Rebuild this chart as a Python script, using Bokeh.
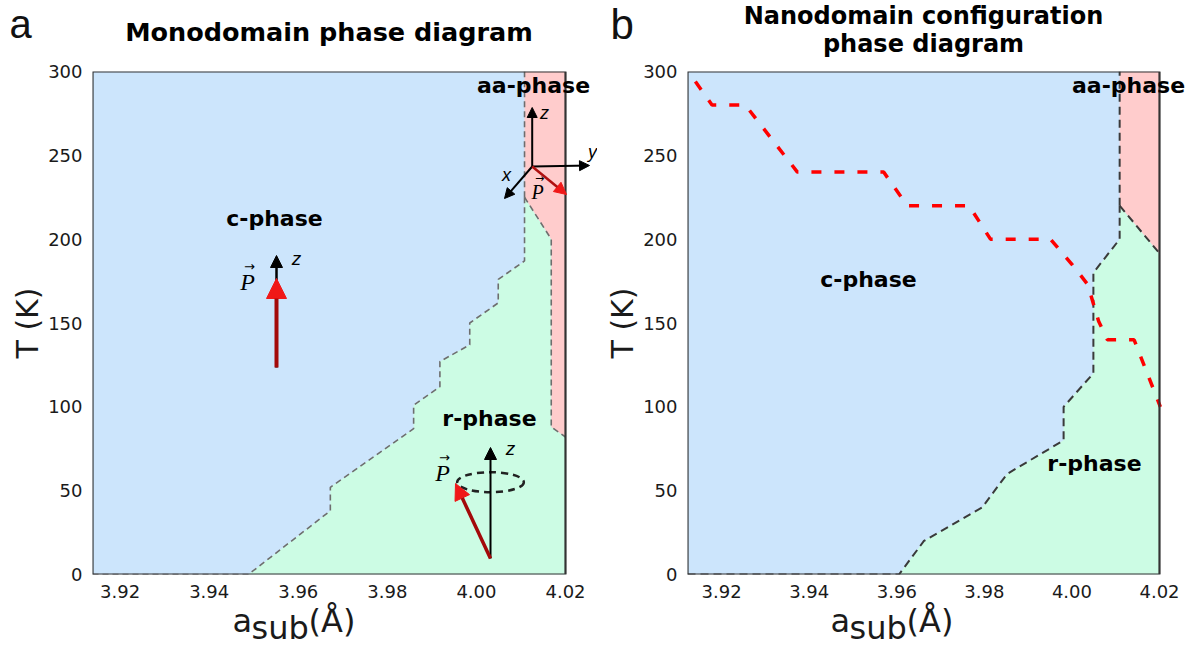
from bokeh.plotting import figure
from bokeh.layouts import row, column
from bokeh.models import Range1d, FixedTicker, PrintfTickFormatter, Label, Arrow, NormalHead
from bokeh.embed import file_html
from bokeh.resources import INLINE

# ---------------- data ----------------
x_ticks = [3.92, 3.94, 3.96, 3.98, 4.00, 4.02]
T_ticks = [0, 50, 100, 150, 200, 250, 300]
a_xlim = [3.9138, 4.02]
b_xlim = [3.9122, 4.02]
T_lim = [0, 300]

# Monodomain: c-phase / r-phase staircase boundary
a_cr_x = [3.9138, 3.9488, 3.9672, 3.9672, 3.9859, 3.9859, 3.9918, 3.9918, 3.9985, 3.9985, 4.0049, 4.0049, 4.0108, 4.0108]
a_cr_T = [0, 0, 38, 52, 87, 101, 112, 127, 137, 150, 162, 176, 187, 225]
# c-phase / aa-phase boundary
a_ca_x = [4.0108, 4.0108]
a_ca_T = [225, 300]
# aa-phase / r-phase boundary
a_ar_x = [4.0108, 4.0168, 4.0168, 4.02]
a_ar_T = [225, 200, 88, 82]

# Nanodomain configuration: c / r boundary
b_cr_x = [3.9122, 3.9605, 3.9662, 3.9795, 3.9852, 3.9981, 3.9981, 4.0049, 4.0049, 4.0109, 4.0109]
b_cr_T = [0, 0, 20, 40, 60, 80, 100, 120, 180, 200, 220]
b_ca_x = [4.0109, 4.0109]
b_ca_T = [220, 300]
b_ar_x = [4.0109, 4.02]
b_ar_T = [220, 191.5]

# red dashed line (nanodomain)
red_x = [3.9140, 3.9178, 3.9254, 3.9373, 3.9570, 3.9624, 3.9765, 3.9814, 3.9951, 4.0000, 4.0036, 4.0061, 4.0081, 4.0142, 4.0202]
red_T = [294, 280, 280, 240, 240, 220, 220, 200, 200, 185, 173, 151, 140, 140, 100]

BLUE = "#cce5fc"
GREEN = "#ccfce4"
PINK = "#ffcccc"
EDGE = "#333333"

W = 1195
H = 646
HEAD = 58          # header strip height
FOOT = 46          # footer strip height
TOP, BOT = 71, 574  # frame top / bottom (page pixels)
MAIN_H = H - HEAD - FOOT

# panel geometry (page pixels)
WA = 597
A_L, A_R = 92, 565       # data box of panel a
B_L, B_R = 687, 1159     # data box of panel b
WB = W - WA


def ty(py):
    return (BOT - py) / (BOT - TOP) * (T_lim[1] - T_lim[0])


def make_fig(xlim, px_l, px_r, fig_x0, fig_w):
    k = (xlim[1] - xlim[0]) / (px_r - px_l)
    x_end = xlim[1] + (fig_x0 + fig_w - px_r) * k
    p = figure(width=fig_w, height=MAIN_H, x_range=Range1d(xlim[0], x_end), y_range=Range1d(*T_lim),
               output_backend="svg", toolbar_location=None,
               min_border_left=px_l - fig_x0, min_border_right=0,
               min_border_top=TOP - HEAD, min_border_bottom=MAIN_H - (BOT - HEAD))
    p.title.visible = False
    p.background_fill_color = "white"
    p.border_fill_color = "white"
    p.outline_line_color = None
    p.grid.visible = False
    p.xaxis.ticker = FixedTicker(ticks=x_ticks)
    p.xaxis.formatter = PrintfTickFormatter(format="%.2f")
    p.yaxis.ticker = FixedTicker(ticks=T_ticks)
    for axis in (p.xaxis[0], p.yaxis[0]):
        axis.axis_line_color = None
        axis.major_tick_line_color = None
        axis.minor_tick_line_color = None
        axis.major_label_text_font = "DejaVu Sans"
        axis.major_label_text_font_size = "18px"
        axis.major_label_text_color = "#1a1a1a"
    p.xaxis.major_label_standoff = 4
    p.yaxis.major_label_standoff = 4
    p.yaxis.axis_label = "T (K)"
    p.yaxis.axis_label_text_font = "DejaVu Sans"
    p.yaxis.axis_label_text_font_style = "normal"
    p.yaxis.axis_label_text_font_size = "30px"
    p.yaxis.axis_label_text_color = "#1a1a1a"
    p.yaxis.axis_label_standoff = 0

    def fx(px):
        return xlim[0] + (px - px_l) * k
    return p, fx


def lab(p, x, py, text, size, conv, font="DejaVu Sans", style="normal", align="center", color="black"):
    # py is the desired baseline (page pixels); text is anchored at its middle
    p.add_layout(Label(x=x, y=conv(py - 0.35 * size), text=text, text_font=font,
                       text_font_size=f"{size}px", text_font_style=style, text_align=align,
                       text_baseline="middle", text_color=color))


def arr(p, x0, y0, x1, y1, color, width, hsize, hcolor):
    p.add_layout(Arrow(end=NormalHead(size=hsize, fill_color=hcolor, line_color=hcolor),
                       x_start=x0, y_start=y0, x_end=x1, y_end=y1,
                       line_color=color, line_width=width))


def regions(p, xlim, cr_x, cr_T, ca_x, ca_T, ar_x, ar_T, dash_color, dash_w, dash):
    p.quad(left=[xlim[0]], right=[xlim[1]], bottom=[T_lim[0]], top=[T_lim[1]],
           fill_color=BLUE, line_color=None)
    gx = cr_x[1:] + ar_x[1:] + [xlim[1]]
    gT = cr_T[1:] + ar_T[1:] + [T_lim[0]]
    p.patch(gx, gT, fill_color=GREEN, line_color=None)
    px_ = [ca_x[1], xlim[1]] + ar_x[::-1]
    pT_ = [ca_T[1], T_lim[1]] + ar_T[::-1]
    p.patch(px_, pT_, fill_color=PINK, line_color=None)
    for xs, ts in ((cr_x, cr_T), (ca_x, ca_T), (ar_x, ar_T)):
        p.line(xs, ts, line_color=dash_color, line_width=dash_w, line_dash=dash)


def box(p, xlim):
    p.quad(left=[xlim[0]], right=[xlim[1]], bottom=[T_lim[0]], top=[T_lim[1]],
           fill_color=None, line_color=EDGE, line_width=2.2)


# ---------- panel a ----------
pa, ax_ = make_fig(a_xlim, A_L, A_R, 0, WA)
regions(pa, a_xlim, a_cr_x, a_cr_T, a_ca_x, a_ca_T, a_ar_x, a_ar_T, "#6e6e6e", 1.6, "6 4")

# phase labels
lab(pa, ax_(274), 226, "c-phase", 22, ty, style="bold")
lab(pa, ax_(489), 426, "r-phase", 22, ty, style="bold")
lab(pa, ax_(533), 93, "aa-phase", 22, ty, style="bold")

# c-phase icon
arr(pa, ax_(276), ty(367), ax_(276), ty(255), "black", 2.5, 12, "black")
arr(pa, ax_(276), ty(367), ax_(276), ty(278), "#a30a0a", 4, 20, "#f01818")
lab(pa, ax_(296), 265, "z", 19, ty, font="Liberation Sans", style="italic")
lab(pa, ax_(247), 290, "P", 24, ty, font="Liberation Serif", style="italic")
lab(pa, ax_(249), 271, "\u2192", 13, ty)

# aa-phase icon
ox, oy = ax_(531.7), ty(166)
arr(pa, ox, oy, ax_(531.7), ty(107), "black", 2, 10, "black")
arr(pa, ox, oy, ax_(589), ty(165), "black", 2, 10, "black")
arr(pa, ox, oy, ax_(504), ty(198), "black", 2, 10, "black")
arr(pa, ox, oy, ax_(566), ty(194), "#b01010", 2.5, 12, "#f01818")
lab(pa, ax_(544), 119, "z", 18, ty, font="Liberation Sans", style="italic")
lab(pa, ax_(592), 158, "y", 18, ty, font="Liberation Sans", style="italic")
lab(pa, ax_(506), 181, "x", 18, ty, font="Liberation Sans", style="italic")
lab(pa, ax_(537), 198, "P", 20, ty, font="Liberation Serif", style="italic")
lab(pa, ax_(539), 182, "\u2192", 11, ty)

# r-phase icon
pa.ellipse(x=[ax_(490)], y=[ty(481.7)], width=[ax_(556.7) - ax_(490)], height=[ty(471.7) - ty(491.7)],
           fill_color=None, line_color="#222222", line_width=2.5, line_dash="7 5")
arr(pa, ax_(490), ty(558), ax_(490), ty(447), "black", 2, 12, "black")
arr(pa, ax_(490), ty(558), ax_(455), ty(483), "#a30a0a", 3.5, 16, "#f01818")
lab(pa, ax_(510), 455, "z", 19, ty, font="Liberation Sans", style="italic")
lab(pa, ax_(442), 481, "P", 24, ty, font="Liberation Serif", style="italic")
lab(pa, ax_(444), 462, "\u2192", 13, ty)
box(pa, a_xlim)

# ---------- panel b ----------
pb, bx_ = make_fig(b_xlim, B_L, B_R, WA, WB)
regions(pb, b_xlim, b_cr_x, b_cr_T, b_ca_x, b_ca_T, b_ar_x, b_ar_T, "#3a3a3a", 2, "8 5")
pb.line(red_x, red_T, line_color="#ff0000", line_width=3.5, line_dash="10 13")
lab(pb, bx_(868), 287, "c-phase", 22, ty, style="bold")
lab(pb, bx_(1094), 471, "r-phase", 22, ty, style="bold")
lab(pb, bx_(1128), 93, "aa-phase", 22, ty, style="bold")
box(pb, b_xlim)


# ---------- header / footer strips (page-pixel coordinates) ----------
def strip(h, y_top):
    s = figure(width=W, height=h, x_range=Range1d(0, W), y_range=Range1d(y_top + h, y_top),
               x_axis_type=None, y_axis_type=None, min_border=0, output_backend="svg",
               toolbar_location=None)
    s.title.visible = False
    s.outline_line_color = None
    s.grid.visible = False
    return s


def ident(v):
    return v


head = strip(HEAD, 0)
lab(head, 9, 37, "a", 40, ident, font="Liberation Sans", align="left", color="#111111")
lab(head, (A_L + A_R) / 2, 40, "Monodomain phase diagram", 25.5, ident, style="bold")
lab(head, 610, 39, "b", 42, ident, font="Liberation Sans", align="left", color="#111111")
lab(head, (B_L + B_R) / 2, 24, "Nanodomain configuration", 24, ident, style="bold")
lab(head, (B_L + B_R) / 2, 52, "phase diagram", 24, ident, style="bold")

foot = strip(FOOT, H - FOOT)
for x0 in (232, 830):
    lab(foot, x0, 632, "a", 32, ident, align="left", color="#1a1a1a")
    lab(foot, x0 + 19, 639, "sub", 32, ident, align="left", color="#1a1a1a")
    lab(foot, x0 + 76, 632, "(\u00c5)", 32, ident, align="left", color="#1a1a1a")

layout = column(head, row(pa, pb), foot)
open("out.html", "w").write(file_html(layout, INLINE))
